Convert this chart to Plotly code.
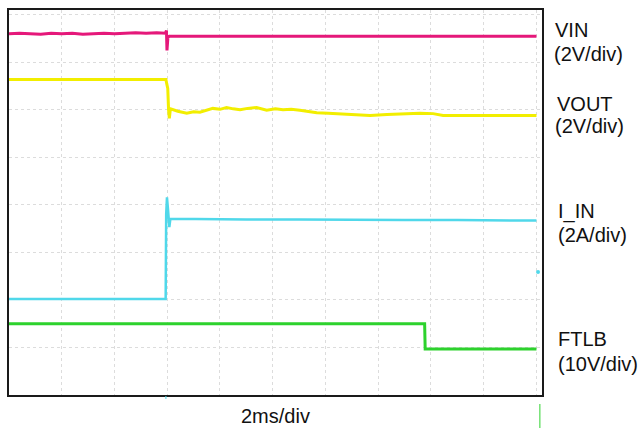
import plotly.graph_objects as go

# ---- data (time in ms, amplitude in scope divisions) ----
vin_t = [0, 0.4, 0.8, 1.2, 1.6, 2.0, 2.4, 2.8, 3.2, 3.6, 4.0, 4.4, 4.8, 5.2, 5.6,
         5.93, 5.97, 5.99, 6.01, 6.03, 6.06, 6.1, 8, 10, 12, 14, 16, 18, 20.0]
vin_v = [7.60, 7.61, 7.60, 7.59, 7.61, 7.60, 7.61, 7.59, 7.60, 7.61, 7.60, 7.61, 7.62, 7.61, 7.62,
         7.61, 7.67, 7.25, 7.50, 7.56, 7.54, 7.55, 7.55, 7.55, 7.55, 7.55, 7.55, 7.55, 7.55]

vout_t = [0, 5.95, 5.98, 6.02, 6.05, 6.08, 6.12, 6.40, 6.74, 7.00, 7.24, 7.50, 7.73, 8.00,
          8.25, 8.50, 8.76, 9.05, 9.39, 9.77, 10.10, 10.39, 10.70, 11.03, 11.35, 11.67,
          12.10, 12.55, 13.04, 13.69, 14.33, 14.94, 15.58, 16.08, 16.46, 17.48, 18.73, 20.0]
vout_v = [6.64, 6.64, 6.55, 6.45, 6.00, 5.82, 6.02, 5.97, 5.93, 5.96, 5.95, 6.00, 6.03, 6.01,
          6.05, 6.02, 6.00, 6.03, 6.05, 5.99, 6.02, 6.00, 6.01, 5.99, 5.97, 5.94,
          5.93, 5.92, 5.90, 5.88, 5.90, 5.92, 5.93, 5.92, 5.88, 5.88, 5.88, 5.88]

iin_t = [0, 5.94, 5.96, 5.99, 6.03, 6.08, 6.12, 7, 9, 11, 13, 15, 17, 19, 20.0]
iin_v = [2.02, 2.02, 3.80, 4.16, 3.90, 3.53, 3.71, 3.70, 3.69, 3.69, 3.68, 3.68, 3.68, 3.67, 3.67]

ftlb_t = [0, 15.76, 15.78, 20.0]
ftlb_v = [1.50, 1.50, 0.97, 0.97]

marker_t = [20.06]
marker_v = [2.59]

labels = ["VIN", "(2V/div)", "VOUT", "(2V/div)", "I_IN", "(2A/div)", "FTLB", "(10V/div)"]
x_label = "2ms/div"

C_VIN = "#E5187A"
C_VOUT = "#F2EE00"
C_IIN = "#50D8EA"
C_FTLB = "#2DD22D"

fig = go.Figure()
fig.add_trace(go.Scatter(x=vin_t, y=vin_v, mode="lines", line=dict(color=C_VIN, width=3)))
fig.add_trace(go.Scatter(x=vout_t, y=vout_v, mode="lines", line=dict(color=C_VOUT, width=3)))
fig.add_trace(go.Scatter(x=iin_t, y=iin_v, mode="lines", line=dict(color=C_IIN, width=2.5)))
fig.add_trace(go.Scatter(x=ftlb_t, y=ftlb_v, mode="lines", line=dict(color=C_FTLB, width=3)))
fig.add_trace(go.Scatter(x=marker_t, y=marker_v, mode="markers",
                         marker=dict(color=C_IIN, size=4), cliponaxis=False))

W, H = 641, 428
L, R, T, B = 9, 99, 10, 33
pw, ph = W - L - R, H - T - B

def px(xp):
    return (xp - L) / pw

def py(yp):
    return (H - B - yp) / ph

font = dict(family="Liberation Sans, Arial, sans-serif", size=20, color="#111111")
label_pos = [(553, 30), (552, 54), (555, 104), (553, 126),
             (556, 212), (556, 235), (556, 339), (556, 364)]
annotations = []
for txt, (xx, yy) in zip(labels, label_pos):
    annotations.append(dict(text=txt, xref="paper", yref="paper", x=px(xx), y=py(yy),
                            xanchor="left", yanchor="middle", showarrow=False, font=font))
annotations.append(dict(text=x_label, xref="paper", yref="paper", x=px(275), y=py(416),
                        xanchor="center", yanchor="middle", showarrow=False, font=font))

shapes = [
    dict(type="line", xref="x", yref="paper", x0=20.13, x1=20.13, y0=py(404), y1=py(428),
         line=dict(color=C_FTLB, width=1)),
    dict(type="line", xref="x", yref="paper", x0=5.95, x1=5.95, y0=py(396), y1=py(399),
         line=dict(color=C_IIN, width=1)),
]

axis_common = dict(showgrid=True, gridcolor="#dcdcdc", griddash="dot", gridwidth=1,
                   showticklabels=False, ticks="", zeroline=False,
                   showline=True, linecolor="#1a1a1a", linewidth=2, mirror=True)

fig.update_layout(
    width=W, height=H,
    margin=dict(l=L, r=R, t=T, b=B),
    paper_bgcolor="white", plot_bgcolor="white",
    showlegend=False,
    xaxis=dict(range=[0, 20.21], tick0=0, dtick=2, **axis_common),
    yaxis=dict(range=[0, 8.1], tick0=0, dtick=1, **axis_common),
    annotations=annotations,
    shapes=shapes,
)

fig.write_html("out.html")
